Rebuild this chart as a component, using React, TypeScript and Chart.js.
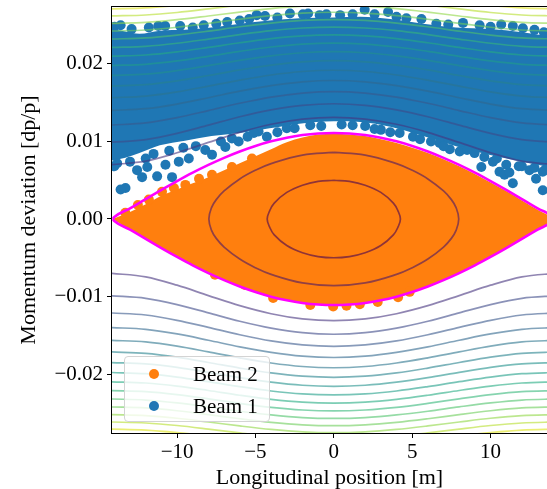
import React, { useEffect, useRef } from "react";
import { Chart, registerables } from "chart.js";

Chart.register(...registerables);

const FONT = "'Liberation Serif', 'DejaVu Serif', serif";

// ---- axes ----
const X_MIN = -14.15;
const X_MAX = 13.6;
const Y_MIN = -0.02761;
const Y_MAX = 0.02735;
const X_TITLE = "Longitudinal position [m]";
const Y_TITLE = "Momentum deviation [dp/p]";

// ---- series ----
const SERIES_LABELS = ["Beam 2", "Beam 1"];
const SERIES_COLORS = ["#ff7f0e", "#1f77b4"];

// Beam 2 (orange) dense core: upper / lower edge
const BEAM2_EDGE_X = [-14.1, -13, -12, -11, -10, -9, -8, -7, -6, -5, -4, -3, -2, -1, 0, 1, 2, 3, 4, 5, 6, 7, 8, 9, 10, 11, 12, 13, 14];
const BEAM2_UPPER = [0, 0.0009, 0.0019, 0.003, 0.0038, 0.0046, 0.0054, 0.0063, 0.0072, 0.0081, 0.009, 0.0099, 0.0105, 0.0109, 0.011, 0.0109, 0.0107, 0.0103, 0.0098, 0.0092, 0.0085, 0.0077, 0.0068, 0.0058, 0.0047, 0.0036, 0.0024, 0.0012, 0.0002];
const BEAM2_LOWER = [0, -0.0014, -0.0026, -0.0038, -0.0049, -0.006, -0.007, -0.0079, -0.0087, -0.0094, -0.01, -0.0105, -0.0108, -0.011, -0.0111, -0.011, -0.0108, -0.0105, -0.01, -0.0094, -0.0087, -0.0079, -0.007, -0.006, -0.0049, -0.0038, -0.0026, -0.0014, -0.0003];
// Beam 2 stray particles
const BEAM2_DOT_X = [-0.04, 0.81, 1.66, 4.1, 4.84, -3.87, -7.58, -5.67, -1.5, 2.8, -10.96, -9.47, -7.77, -6.5, -5.22, -12.5, -8.6, -13.3, -11.8, -10.2];
const BEAM2_DOT_Y = [-0.0113, -0.0112, -0.011, -0.0101, -0.0094, -0.0102, -0.0072, -0.0085, -0.0111, -0.0107, 0.0035, 0.0044, 0.0057, 0.0067, 0.0078, 0.0018, 0.0052, 0.0008, 0.0025, 0.004];

// Beam 1 (blue) dense band: upper / lower edge
const BEAM1_EDGE_X = [-14.5, -13.3, -12.4, -11.1, -9.5, -7.8, -6, -4.1, -2.2, 0, 1.7, 3.6, 5.7, 7.8, 9.9, 12, 14];
const BEAM1_UPPER = [0.0246, 0.0242, 0.0239, 0.0243, 0.0244, 0.0247, 0.0252, 0.0256, 0.0259, 0.026, 0.0261, 0.0258, 0.0252, 0.0247, 0.0245, 0.0241, 0.0235];
const BEAM1_LOWER = [0.0074, 0.0079, 0.0085, 0.0095, 0.0101, 0.0107, 0.0111, 0.0117, 0.0123, 0.0126, 0.0125, 0.0119, 0.0107, 0.0094, 0.0083, 0.0074, 0.0066];
// Beam 1 stray particles (lower fringe, then upper fringe)
const BEAM1_DOT_X = [
  -13.82, -13.29, -13.6, -12.55, -12.23, -11.9, -11.27, -10.74, -10.32, -9.89, -9.25, -8.2, -7.77, -6.92, -6.07, -4.8, -4.27, -3, -1.5, 0.5, 2, 3, 4.2, 5.05, 6.75, 8.03, 8.98, 9.41, 10.15, 10.57, 10.89, 11.42, 12.48, 13.33, 13.33, 12, 7.4,
  -14, -13, -12, -11.5, -10.5, -9.6, -8.8, -7.2, -6.5, -5.5, -5.1, -3.6, -2.5, -0.8, 1.2, 2.6, 3.6, 5.5, 6.2, 7, 8.5, 9.6, 10.4, 11, 11.8, 12.8, 13.5, 11.2, 12.9,
  -14, -13.6, -12.9, -11.8, -11.2, -10.76, -9.8, -9, -8.3, -7.5, -6.8, -6, -5.4, -4.92, -4.39, -3.6, -2.8, -1.97, -1.64, -0.9, -0.47, 0.4, 1.2, 1.97, 2.6, 3.46, 4, 4.63, 5.59, 6.54, 7.3, 8.24, 9.3, 10, 10.68, 11.42, 12.06, 12.8, 13.4,
];
const BEAM1_DOT_Y = [
  0.0072, 0.004, 0.0038, 0.0063, 0.0054, 0.0067, 0.0055, 0.007, 0.0054, 0.0074, 0.0078, 0.0089, 0.0083, 0.0093, 0.01, 0.0113, 0.0106, 0.0117, 0.0121, 0.0122, 0.012, 0.0115, 0.0111, 0.0106, 0.0098, 0.0087, 0.0085, 0.0067, 0.0074, 0.0061, 0.0057, 0.0046, 0.0063, 0.0061, 0.0037, 0.0068, 0.009,
  0.0068, 0.0074, 0.0078, 0.0084, 0.0088, 0.0092, 0.0094, 0.01, 0.0104, 0.0106, 0.0111, 0.0112, 0.0117, 0.012, 0.0121, 0.0116, 0.0112, 0.0103, 0.01, 0.0094, 0.0089, 0.008, 0.0078, 0.007, 0.0068, 0.0066, 0.0064, 0.006, 0.0052,
  0.0248, 0.025, 0.0245, 0.0247, 0.0249, 0.0249, 0.0249, 0.0247, 0.025, 0.0252, 0.0254, 0.0256, 0.0258, 0.0263, 0.0262, 0.026, 0.0265, 0.0264, 0.0265, 0.0263, 0.0264, 0.0263, 0.0264, 0.027, 0.0264, 0.0267, 0.0261, 0.0259, 0.0258, 0.0252, 0.0251, 0.0253, 0.025, 0.0248, 0.0251, 0.0249, 0.0246, 0.0244, 0.0241,
];

// Separatrix
const SEP_X = [-14.1, -14, -13, -12, -11, -10, -9, -8, -7, -6, -5, -4, -3, -2, -1, 0, 1, 2, 3, 4, 5, 6, 7, 8, 9, 10, 11, 12, 13, 14, 14.1];
const SEP_Y = [0, 0.00025, 0.00137, 0.00257, 0.00375, 0.00489, 0.00598, 0.00698, 0.00789, 0.00871, 0.00942, 0.01002, 0.01049, 0.01083, 0.01103, 0.0111, 0.01103, 0.01083, 0.01049, 0.01002, 0.00942, 0.00871, 0.00789, 0.00698, 0.00598, 0.00489, 0.00375, 0.00257, 0.00137, 0.00025, 0];

// Closed contours inside the bucket
const INNER1_X = [0, 1, 2, 3, 3.8, 4.1, 4.25, 4.1, 3.8, 3, 2, 1, 0, -1, -2, -3, -3.8, -4.1, -4.25, -4.1, -3.8, -3, -2, -1, 0];
const INNER1_Y = [0.005, 0.00485, 0.00436, 0.00343, 0.00205, 0.00102, 0, -0.00102, -0.00205, -0.00343, -0.00436, -0.00485, -0.005, -0.00485, -0.00436, -0.00343, -0.00205, -0.00102, 0, 0.00102, 0.00205, 0.00343, 0.00436, 0.00485, 0.005];
const INNER2_X = [0, 2, 4, 5, 6, 7, 7.5, 7.8, 7.97, 7.8, 7.5, 7, 6, 5, 4, 2, 0, -2, -4, -5, -6, -7, -7.5, -7.8, -7.97, -7.8, -7.5, -7, -6, -5, -4, -2, 0];
const INNER2_Y = [0.0086, 0.00825, 0.00715, 0.00629, 0.00517, 0.00362, 0.0025, 0.00147, 0, -0.00147, -0.0025, -0.00362, -0.00517, -0.00629, -0.00715, -0.00825, -0.0086, -0.00825, -0.00715, -0.00629, -0.00517, -0.00362, -0.0025, -0.00147, 0, 0.00147, 0.0025, 0.00362, 0.00517, 0.00629, 0.00715, 0.00825, 0.0086];

// Open contours outside the bucket: |dp/p| at x = 0, 2, 4, ..., 12, 14.2 (symmetric)
const OUTER_HALF_X = [0, 2, 4, 6, 8, 10, 12, 14.2];
const OUTER_PROFILES = [
  [0.01312, 0.01289, 0.01222, 0.01118, 0.00988, 0.00854, 0.00746, 0.007],
  [0.01487, 0.01467, 0.01408, 0.01319, 0.01211, 0.01104, 0.01023, 0.0099],
  [0.01644, 0.01625, 0.01573, 0.01493, 0.01399, 0.01307, 0.01239, 0.01212],
  [0.01787, 0.0177, 0.01721, 0.01649, 0.01564, 0.01483, 0.01423, 0.014],
  [0.01919, 0.01903, 0.01858, 0.01791, 0.01714, 0.0164, 0.01586, 0.01565],
  [0.02043, 0.02028, 0.01986, 0.01923, 0.01851, 0.01783, 0.01734, 0.01715],
  [0.02159, 0.02145, 0.02105, 0.02047, 0.01979, 0.01915, 0.0187, 0.01852],
  [0.0227, 0.02257, 0.02219, 0.02163, 0.02099, 0.02039, 0.01996, 0.0198],
  [0.02375, 0.02363, 0.02327, 0.02274, 0.02213, 0.02156, 0.02116, 0.021],
  [0.02476, 0.02464, 0.0243, 0.02379, 0.02321, 0.02267, 0.02228, 0.02214],
  [0.02573, 0.02562, 0.02528, 0.0248, 0.02424, 0.02373, 0.02336, 0.02322],
  [0.02667, 0.02656, 0.02624, 0.02577, 0.02523, 0.02474, 0.02438, 0.02425],
  [0.02757, 0.02746, 0.02715, 0.0267, 0.02619, 0.02571, 0.02537, 0.02524],
  [0.02845, 0.02834, 0.02804, 0.0276, 0.0271, 0.02664, 0.02632, 0.02619],
  [0.0293, 0.02919, 0.0289, 0.02848, 0.02799, 0.02755, 0.02723, 0.02711],
];

// ---- styles ----
const INNER_COLORS = ["#440154", "#481567"];
const OUTER_COLORS = ["#46337f", "#3e4a89", "#38598c", "#31688e", "#2b758e", "#26828e", "#21918c", "#1f9e89", "#25ab82", "#35b779", "#4ec36b", "#6ccd5a", "#8fd744", "#b5de2b", "#dde318"];
const CONTOUR_ALPHA = 0.6;
const SEP_COLOR = "#ff00ff";

function rgba(hex: string, a: number) {
  const n = parseInt(hex.slice(1), 16);
  return `rgba(${(n >> 16) & 255},${(n >> 8) & 255},${n & 255},${a})`;
}
const pts = (xs: number[], ys: number[]) => xs.map((x, i) => ({ x, y: ys[i] }));
const fmtMinus = (s: string, neg: boolean) => (neg ? "\u2212" + s : s);

function buildDatasets() {
  const ds: any[] = [];
  const lineBase = { pointRadius: 0, pointHoverRadius: 0, showLine: true, fill: false };
  // magenta separatrix (top-most)
  ds.push({ ...lineBase, label: "sep+", data: pts(SEP_X, SEP_Y), borderColor: SEP_COLOR, borderWidth: 2.6, cubicInterpolationMode: "monotone", order: 1 });
  ds.push({ ...lineBase, label: "sep-", data: pts(SEP_X, SEP_Y.map((v) => -v)), borderColor: SEP_COLOR, borderWidth: 2.6, cubicInterpolationMode: "monotone", order: 1 });
  // contours
  ds.push({ ...lineBase, label: "c-in1", data: pts(INNER1_X, INNER1_Y), borderColor: rgba(INNER_COLORS[0], CONTOUR_ALPHA), borderWidth: 1.7, tension: 0.4, order: 2 });
  ds.push({ ...lineBase, label: "c-in2", data: pts(INNER2_X, INNER2_Y), borderColor: rgba(INNER_COLORS[1], CONTOUR_ALPHA), borderWidth: 1.7, tension: 0.4, order: 2 });
  const fullX = [...OUTER_HALF_X.slice(1).map((v) => -v).reverse(), ...OUTER_HALF_X];
  OUTER_PROFILES.forEach((p, i) => {
    const mag = [...p.slice(1).reverse(), ...p];
    const col = rgba(OUTER_COLORS[i], CONTOUR_ALPHA);
    ds.push({ ...lineBase, label: "c+" + i, data: pts(fullX, mag), borderColor: col, borderWidth: 1.7, cubicInterpolationMode: "monotone", order: 2 });
    ds.push({ ...lineBase, label: "c-" + i, data: pts(fullX, mag.map((v) => -v)), borderColor: col, borderWidth: 1.7, cubicInterpolationMode: "monotone", order: 2 });
  });
  // Beam 1
  ds.push({ label: SERIES_LABELS[1] + " dots", data: pts(BEAM1_DOT_X, BEAM1_DOT_Y), showLine: false, pointRadius: 5, pointHoverRadius: 5, pointBorderWidth: 0, pointBackgroundColor: SERIES_COLORS[1], order: 7 });
  ds.push({ label: SERIES_LABELS[1], data: pts(BEAM1_EDGE_X, BEAM1_UPPER), showLine: true, pointRadius: 0, borderWidth: 0, borderColor: "rgba(0,0,0,0)", backgroundColor: SERIES_COLORS[1], fill: "+1", cubicInterpolationMode: "monotone", order: 8 });
  ds.push({ label: SERIES_LABELS[1] + " lo", data: pts(BEAM1_EDGE_X, BEAM1_LOWER), showLine: true, pointRadius: 0, borderWidth: 0, borderColor: "rgba(0,0,0,0)", fill: false, cubicInterpolationMode: "monotone", order: 8 });
  // Beam 2
  ds.push({ label: SERIES_LABELS[0] + " dots", data: pts(BEAM2_DOT_X, BEAM2_DOT_Y), showLine: false, pointRadius: 5, pointHoverRadius: 5, pointBorderWidth: 0, pointBackgroundColor: SERIES_COLORS[0], order: 9 });
  ds.push({ label: SERIES_LABELS[0], data: pts(BEAM2_EDGE_X, BEAM2_UPPER), showLine: true, pointRadius: 0, borderWidth: 0, borderColor: "rgba(0,0,0,0)", backgroundColor: SERIES_COLORS[0], fill: "+1", cubicInterpolationMode: "monotone", order: 10 });
  ds.push({ label: SERIES_LABELS[0] + " lo", data: pts(BEAM2_EDGE_X, BEAM2_LOWER), showLine: true, pointRadius: 0, borderWidth: 0, borderColor: "rgba(0,0,0,0)", fill: false, cubicInterpolationMode: "monotone", order: 10 });
  return ds;
}

const framePlugin = {
  id: "frame",
  afterDraw(chart: any) {
    const { ctx, chartArea: a } = chart;
    ctx.save();
    ctx.strokeStyle = "#000";
    ctx.lineWidth = 1;
    ctx.strokeRect(Math.round(a.left) - 0.5, Math.round(a.top) - 0.5, a.right - a.left + 4, Math.round(a.bottom - a.top) + 1);
    ctx.restore();
  },
};

export default function App() {
  const ref = useRef<HTMLCanvasElement | null>(null);
  useEffect(() => {
    if (!ref.current) return;
    const chart = new Chart(ref.current, {
      type: "line",
      data: { datasets: buildDatasets() },
      plugins: [framePlugin],
      options: {
        animation: false,
        responsive: false,
        devicePixelRatio: 1,
        events: [],
        layout: { autoPadding: false, padding: { top: 7, right: 0, left: 0, bottom: 0 } },
        plugins: { legend: { display: false }, tooltip: { enabled: false } },
        scales: {
          x: {
            type: "linear",
            min: X_MIN,
            max: X_MAX,
            afterFit: (s: any) => { s.height = 56; s.paddingLeft = 0; s.paddingRight = 0; },
            border: { display: false },
            grid: { display: true, drawOnChartArea: false, drawTicks: true, tickLength: 5, tickColor: "#000", tickWidth: 1 },
            ticks: {
              stepSize: 5, includeBounds: false, autoSkip: false, maxRotation: 0, padding: 2, color: "#000",
              font: { family: FONT, size: 21 },
              callback: (v: any) => fmtMinus(String(Math.abs(Number(v))), Number(v) < 0),
            },
            title: { display: true, text: X_TITLE, color: "#000", font: { family: FONT, size: 22, lineHeight: 1 }, padding: { top: 0, bottom: 0 } },
          },
          y: {
            type: "linear",
            min: Y_MIN,
            max: Y_MAX,
            afterFit: (s: any) => { s.width = 112; s.paddingTop = 0; s.paddingBottom = 0; },
            border: { display: false },
            grid: { display: true, drawOnChartArea: false, drawTicks: true, tickLength: 5, tickColor: "#000", tickWidth: 1 },
            ticks: {
              stepSize: 0.01, includeBounds: false, autoSkip: false, padding: 4, color: "#000",
              font: { family: FONT, size: 21 },
              callback: (v: any) => fmtMinus(Math.abs(Number(v)).toFixed(2), Number(v) < -1e-9),
            },
            title: { display: true, text: Y_TITLE, color: "#000", font: { family: FONT, size: 22, lineHeight: 1 }, padding: { top: 18, bottom: 0 } },
          },
        },
      } as any,
    });
    return () => chart.destroy();
  }, []);

  const legendItems = [0, 1];
  return (
    <div style={{ position: "fixed", left: 0, top: 0, width: 547, height: 489, background: "#fff", overflow: "hidden" }}>
      <canvas ref={ref} width={547} height={489} style={{ display: "block", width: 547, height: 489 }} />
      <div
        style={{
          position: "absolute", left: 124, top: 356, width: 146, height: 66, boxSizing: "border-box",
          border: "1px solid #d4d4d4", borderRadius: 4, background: "rgba(255,255,255,0.8)",
        }}
      >
        {legendItems.map((i) => (
          <div key={i} style={{ position: "absolute", left: 0, top: 4 + i * 32, height: 26, width: 144 }}>
            <span style={{ position: "absolute", left: 24, top: 8, width: 10, height: 10, borderRadius: 5, background: SERIES_COLORS[i] }} />
            <span style={{ position: "absolute", left: 68, top: 0, fontFamily: FONT, fontSize: 21, lineHeight: "26px", color: "#000", whiteSpace: "nowrap" }}>
              {SERIES_LABELS[i]}
            </span>
          </div>
        ))}
      </div>
    </div>
  );
}
